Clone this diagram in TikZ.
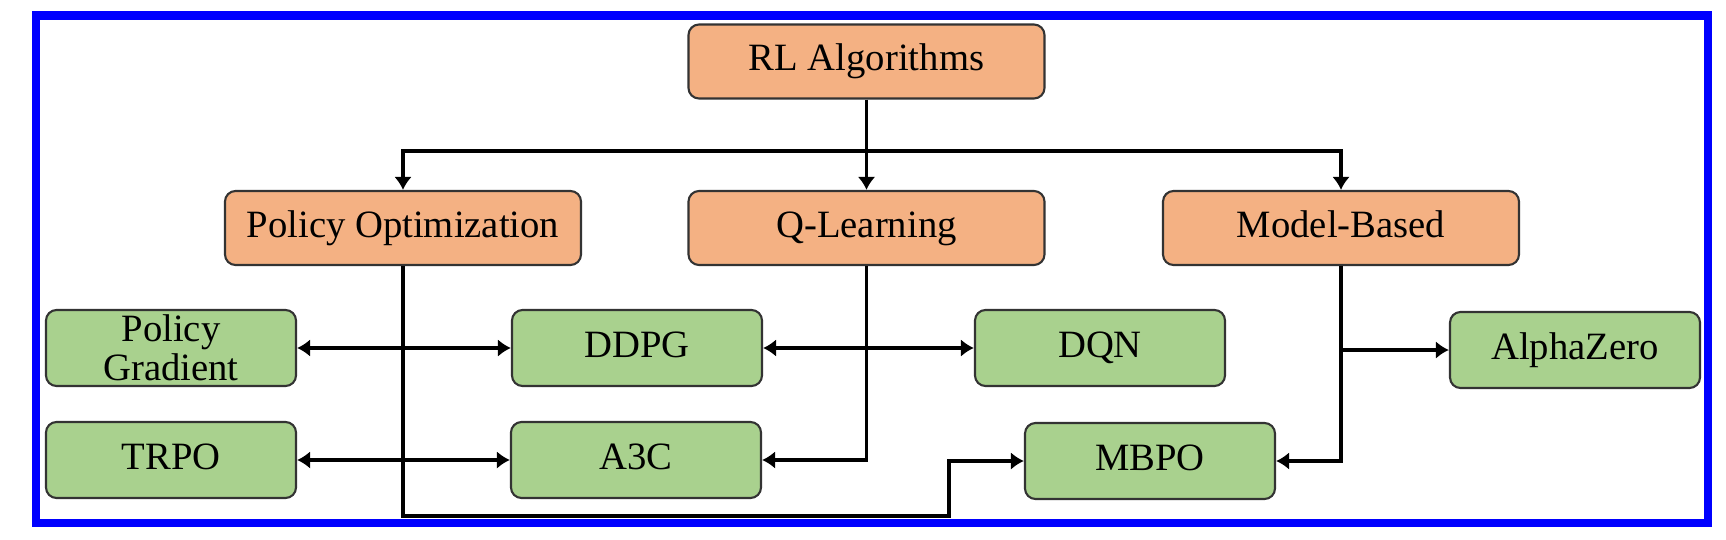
\documentclass[tikz,border=0pt]{standalone}
\usepackage{fontspec}
\setmainfont{Liberation Serif}
\usetikzlibrary{arrows.meta}
\definecolor{catorange}{HTML}{F4B183}
\definecolor{algogreen}{HTML}{A9D18E}
\begin{document}
\begin{tikzpicture}[
  box/.style={draw=black!80,line width=0.6pt,rounded corners=3pt,align=center,
    font=\fontsize{11}{10}\selectfont,inner sep=1pt},
  line/.style={text height=7.6pt,text depth=2.4pt},
  cat/.style={box,line,fill=catorange,minimum width=3.56cm,minimum height=0.74cm},
  algo/.style={box,fill=algogreen,minimum width=2.50cm,minimum height=0.76cm},
  arr/.style={line width=1pt,-{Latex[length=3.7pt,width=5pt]}},
  dbl/.style={line width=1pt,{Latex[length=3.7pt,width=5pt]}-{Latex[length=3.7pt,width=5pt]}}]
\useasboundingbox (0,0) rectangle (17.26,5.39);
\draw[blue,line width=2.3pt] (0.36,0.16) rectangle (17.08,5.235);

\node[cat] (rl) at (8.665,4.775) {RL Algorithms};
\node[cat] (po) at (4.03,3.11) {Policy Optimization};
\node[cat] (ql) at (8.665,3.11) {Q-Learning};
\node[cat] (mb) at (13.41,3.11) {Model-Based};

\node[algo] (pg) at (1.71,1.91) {Policy\\Gradient};
\node[algo,line] (ddpg) at (6.37,1.91) {DDPG};
\node[algo,line] (dqn) at (11.00,1.91) {DQN};
\node[algo,line] (az) at (15.75,1.89) {AlphaZero};
\node[algo,line] (trpo) at (1.71,0.79) {TRPO};
\node[algo,line] (a3c) at (6.36,0.79) {A3C};
\node[algo,line] (mbpo) at (11.50,0.78) {MBPO};

\coordinate (bus) at (0,3.88);
\coordinate (low) at (9.49,0.23);

\draw[arr] (rl.south) -- (ql.north);
\draw[arr] (rl.south |- bus) -| (po.north);
\draw[arr] (rl.south |- bus) -| (mb.north);

\draw[dbl] (pg.east) -- (ddpg.west);
\draw[dbl] (ddpg.east) -- (dqn.west);
\draw[dbl] (trpo.east) -- (a3c.west);

\draw[arr] (po.south) |- (low) |- (mbpo.west);
\draw[arr] (ql.south) |- (a3c.east);
\draw[arr] (mb.south) |- (mbpo.east);
\draw[arr] (mb.south |- az.west) -- (az.west);
\end{tikzpicture}
\end{document}
